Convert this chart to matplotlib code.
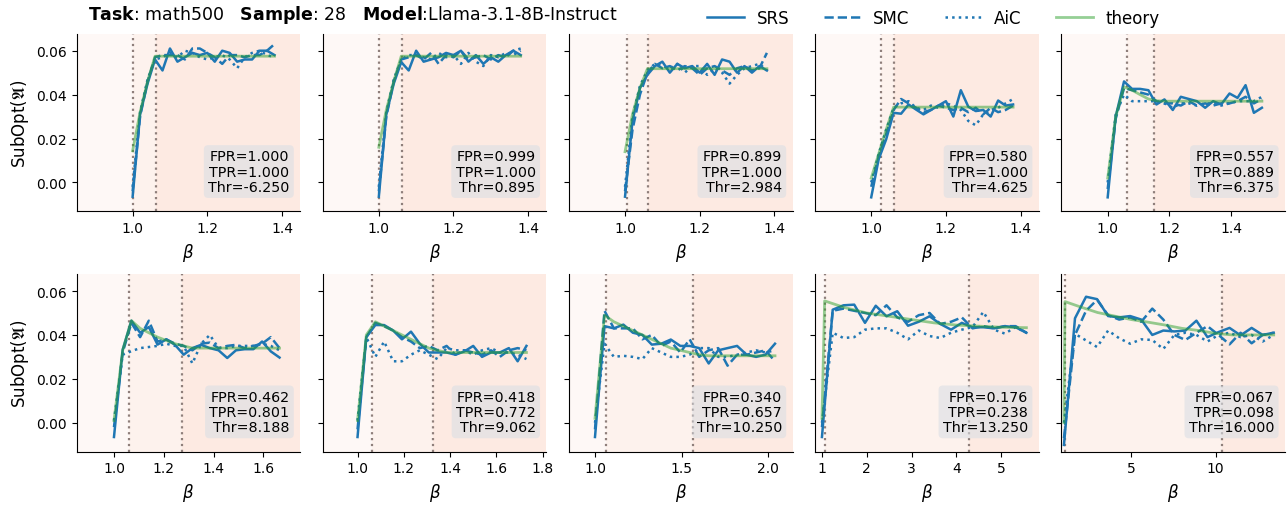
import matplotlib
matplotlib.use("Agg")
from matplotlib import pyplot as plt
from matplotlib.ticker import MultipleLocator

# beta grids
beta_top = [1.00, 1.02, 1.04, 1.06, 1.08, 1.10, 1.12, 1.14, 1.16, 1.18,
            1.20, 1.22, 1.24, 1.26, 1.28, 1.30, 1.32, 1.34, 1.36, 1.38]
beta_5 = [1.0, 1.026, 1.053, 1.079, 1.105, 1.132, 1.158, 1.184, 1.211, 1.237,
          1.263, 1.289, 1.316, 1.342, 1.368, 1.395, 1.421, 1.447, 1.474, 1.5]
beta_6 = [1.0, 1.035, 1.07, 1.105, 1.14, 1.175, 1.21, 1.245, 1.28, 1.315,
          1.35, 1.385, 1.42, 1.455, 1.49, 1.525, 1.56, 1.595, 1.63, 1.665]
beta_7 = [1.0, 1.038, 1.077, 1.115, 1.154, 1.192, 1.231, 1.269, 1.308, 1.346,
          1.385, 1.423, 1.462, 1.5, 1.538, 1.577, 1.615, 1.654, 1.692, 1.73]
beta_8 = [1.0, 1.055, 1.109, 1.164, 1.219, 1.274, 1.328, 1.383, 1.438, 1.493,
          1.547, 1.602, 1.657, 1.712, 1.766, 1.821, 1.876, 1.931, 1.985, 2.04]
beta_9 = [1.0, 1.24, 1.48, 1.72, 1.96, 2.2, 2.44, 2.68, 2.92, 3.16,
          3.4, 3.64, 3.88, 4.12, 4.36, 4.6, 4.84, 5.08, 5.32, 5.56]
beta_10 = [1.0, 1.655, 2.31, 2.965, 3.62, 4.275, 4.93, 5.585, 6.24, 6.895,
           7.55, 8.205, 8.86, 9.515, 10.17, 10.825, 11.48, 12.135, 12.79, 13.445]
theory_beta_9 = [1.0, 1.06, 1.5, 2.0, 2.5, 3.0, 3.5, 4.0, 4.5, 5.0, 5.56]
theory_beta_10 = [1.0, 1.06, 2, 3, 4, 5, 6, 7, 8, 9, 10, 11, 12, 13.445]

# SubOpt values per panel
srs_1 = [-0.0065, 0.031, 0.045, 0.056, 0.051, 0.061, 0.055, 0.057, 0.059, 0.058,
         0.059, 0.055, 0.060, 0.059, 0.055, 0.056, 0.056, 0.060, 0.060, 0.058]
smc_1 = [-0.004, 0.030, 0.046, 0.057, 0.058, 0.058, 0.058, 0.056, 0.061, 0.061,
         0.059, 0.057, 0.054, 0.058, 0.058, 0.057, 0.058, 0.058, 0.060, 0.063]
aic_1 = [-0.002, 0.032, 0.047, 0.056, 0.057, 0.059, 0.057, 0.060, 0.059, 0.057,
         0.056, 0.057, 0.058, 0.056, 0.052, 0.057, 0.059, 0.060, 0.058, 0.057]
theory_1 = [0.0144, 0.032, 0.046, 0.0575, 0.0575, 0.0575, 0.0575, 0.0575, 0.0575, 0.0575,
            0.0575, 0.0575, 0.0575, 0.0575, 0.0575, 0.0575, 0.0575, 0.0575, 0.0575, 0.0575]

srs_2 = [-0.0065, 0.031, 0.045, 0.0548, 0.051, 0.060, 0.055, 0.056, 0.057, 0.059,
         0.058, 0.060, 0.055, 0.058, 0.054, 0.057, 0.055, 0.058, 0.060, 0.058]
smc_2 = [-0.004, 0.030, 0.046, 0.056, 0.057, 0.058, 0.056, 0.059, 0.054, 0.058,
         0.057, 0.060, 0.056, 0.057, 0.058, 0.056, 0.058, 0.057, 0.060, 0.061]
aic_2 = [-0.002, 0.032, 0.047, 0.056, 0.058, 0.058, 0.057, 0.056, 0.059, 0.057,
         0.058, 0.054, 0.059, 0.055, 0.053, 0.058, 0.057, 0.059, 0.058, 0.060]
theory_2 = [0.016, 0.033, 0.046, 0.0575, 0.0575, 0.0575, 0.0575, 0.0575, 0.0575, 0.0575,
            0.0575, 0.0575, 0.0575, 0.0575, 0.0575, 0.0575, 0.0575, 0.0575, 0.0575, 0.0575]

srs_3 = [-0.0065, 0.028, 0.043, 0.049, 0.053, 0.055, 0.050, 0.054, 0.052, 0.053,
         0.050, 0.054, 0.049, 0.056, 0.055, 0.050, 0.053, 0.050, 0.053, 0.051]
smc_3 = [-0.004, 0.024, 0.040, 0.050, 0.054, 0.052, 0.053, 0.051, 0.053, 0.052,
         0.049, 0.052, 0.053, 0.051, 0.049, 0.052, 0.053, 0.051, 0.052, 0.059]
aic_3 = [-0.002, 0.030, 0.044, 0.051, 0.054, 0.053, 0.052, 0.054, 0.050, 0.053,
         0.053, 0.049, 0.052, 0.050, 0.045, 0.049, 0.052, 0.053, 0.054, 0.051]
theory_3 = [0.014, 0.031, 0.043, 0.0518, 0.0518, 0.0518, 0.0518, 0.0518, 0.0518, 0.0518,
            0.0518, 0.0518, 0.0518, 0.0518, 0.0518, 0.0518, 0.0518, 0.0518, 0.0518, 0.0518]

srs_4 = [-0.0068, 0.0106, 0.0196, 0.0317, 0.0313, 0.0355, 0.0332, 0.031, 0.033, 0.035,
         0.037, 0.030, 0.042, 0.0345, 0.0325, 0.033, 0.030, 0.0373, 0.035, 0.0355]
smc_4 = [-0.002, 0.012, 0.022, 0.033, 0.038, 0.036, 0.034, 0.032, 0.033, 0.035,
         0.034, 0.033, 0.034, 0.032, 0.034, 0.031, 0.034, 0.032, 0.033, 0.035]
aic_4 = [0.0, 0.013, 0.024, 0.034, 0.036, 0.037, 0.034, 0.033, 0.035, 0.034,
         0.036, 0.035, 0.033, 0.028, 0.026, 0.031, 0.033, 0.034, 0.036, 0.038]
theory_4 = [0.002, 0.013, 0.024, 0.0343, 0.0343, 0.0343, 0.0343, 0.0343, 0.0343, 0.0343,
            0.0343, 0.0343, 0.0343, 0.0343, 0.0343, 0.0343, 0.0343, 0.0343, 0.0343, 0.0343]

srs_5 = [-0.0068, 0.030, 0.046, 0.0426, 0.0426, 0.042, 0.0355, 0.0378, 0.033, 0.039,
         0.038, 0.037, 0.034, 0.037, 0.0355, 0.0405, 0.0385, 0.0443, 0.0317, 0.034]
smc_5 = [-0.003, 0.029, 0.043, 0.042, 0.041, 0.040, 0.037, 0.036, 0.036, 0.035,
         0.037, 0.035, 0.036, 0.035, 0.036, 0.036, 0.037, 0.039, 0.036, 0.038]
aic_5 = [0.0, 0.031, 0.040, 0.037, 0.037, 0.037, 0.037, 0.036, 0.034, 0.036,
         0.036, 0.035, 0.036, 0.036, 0.035, 0.036, 0.037, 0.037, 0.037, 0.039]
theory_5 = [0.002, 0.030, 0.0435, 0.042, 0.040, 0.038, 0.0372, 0.037, 0.037, 0.037,
            0.037, 0.037, 0.037, 0.037, 0.037, 0.037, 0.037, 0.037, 0.037, 0.037]

srs_6 = [-0.0065, 0.0333, 0.0465, 0.041, 0.0436, 0.0356, 0.038, 0.0355, 0.031, 0.034,
         0.0355, 0.034, 0.033, 0.0295, 0.033, 0.0335, 0.0335, 0.037, 0.0325, 0.0297]
smc_6 = [-0.002, 0.032, 0.0455, 0.039, 0.0465, 0.037, 0.038, 0.036, 0.035, 0.033,
         0.036, 0.0365, 0.034, 0.035, 0.0355, 0.034, 0.035, 0.036, 0.039, 0.034]
aic_6 = [0.001, 0.031, 0.0326, 0.034, 0.0345, 0.035, 0.036, 0.035, 0.035, 0.027,
         0.036, 0.040, 0.034, 0.034, 0.035, 0.035, 0.035, 0.036, 0.035, 0.033]
theory_6 = [0.001, 0.033, 0.0465, 0.043, 0.041, 0.039, 0.0375, 0.036, 0.035, 0.034,
            0.034, 0.034, 0.034, 0.034, 0.034, 0.034, 0.034, 0.034, 0.034, 0.034]

srs_7 = [-0.0065, 0.039, 0.0445, 0.0445, 0.042, 0.038, 0.0415, 0.036, 0.032, 0.032,
         0.032, 0.031, 0.0325, 0.035, 0.030, 0.032, 0.032, 0.034, 0.028, 0.035]
smc_7 = [-0.003, 0.039, 0.0455, 0.044, 0.042, 0.039, 0.037, 0.034, 0.035, 0.033,
         0.035, 0.031, 0.033, 0.032, 0.031, 0.033, 0.030, 0.033, 0.034, 0.033]
aic_7 = [0.001, 0.039, 0.030, 0.037, 0.028, 0.028, 0.031, 0.033, 0.031, 0.029,
         0.034, 0.033, 0.033, 0.031, 0.033, 0.034, 0.032, 0.032, 0.031, 0.029]
theory_7 = [0.001, 0.040, 0.046, 0.044, 0.042, 0.040, 0.038, 0.036, 0.034, 0.033,
            0.032, 0.032, 0.032, 0.032, 0.032, 0.032, 0.032, 0.032, 0.032, 0.032]

srs_8 = [-0.0065, 0.044, 0.043, 0.0447, 0.041, 0.040, 0.0356, 0.036, 0.0379, 0.035,
         0.035, 0.034, 0.027, 0.033, 0.034, 0.035, 0.031, 0.030, 0.031, 0.036]
smc_8 = [-0.003, 0.051, 0.043, 0.043, 0.043, 0.038, 0.040, 0.035, 0.037, 0.032,
         0.038, 0.030, 0.033, 0.034, 0.026, 0.031, 0.031, 0.032, 0.033, 0.028]
aic_8 = [0.0, 0.036, 0.030, 0.0305, 0.030, 0.029, 0.034, 0.032, 0.030, 0.030,
         0.031, 0.034, 0.034, 0.030, 0.030, 0.031, 0.032, 0.033, 0.032, 0.033]
theory_8 = [0.002, 0.049, 0.046, 0.044, 0.042, 0.040, 0.038, 0.036, 0.034, 0.033,
            0.032, 0.031, 0.0305, 0.0305, 0.0305, 0.0305, 0.0305, 0.0305, 0.0305, 0.0305]

srs_9 = [-0.0065, 0.0515, 0.0535, 0.0538, 0.0455, 0.0533, 0.0485, 0.0508, 0.0442, 0.046,
         0.0485, 0.045, 0.0424, 0.0455, 0.0435, 0.0435, 0.043, 0.044, 0.0435, 0.041]
smc_9 = [-0.002, 0.051, 0.052, 0.051, 0.050, 0.049, 0.0535, 0.048, 0.046, 0.049,
         0.050, 0.045, 0.046, 0.048, 0.043, 0.044, 0.043, 0.044, 0.044, 0.041]
aic_9 = [0.0, 0.041, 0.0386, 0.039, 0.0424, 0.043, 0.043, 0.041, 0.038, 0.042,
         0.0395, 0.0386, 0.041, 0.0424, 0.0436, 0.0505, 0.0424, 0.0406, 0.0436, 0.041]
theory_9 = [0.002, 0.0555, 0.0525, 0.050, 0.0485, 0.047, 0.0455, 0.0445, 0.044, 0.0435, 0.0433]

srs_10 = [-0.0101, 0.0476, 0.0574, 0.0563, 0.0486, 0.048, 0.0486, 0.047, 0.040, 0.042,
          0.0416, 0.042, 0.0465, 0.039, 0.0413, 0.0432, 0.0398, 0.0432, 0.040, 0.041]
smc_10 = [-0.007, 0.040, 0.051, 0.056, 0.049, 0.047, 0.048, 0.046, 0.052, 0.047,
          0.040, 0.0377, 0.041, 0.044, 0.040, 0.0357, 0.041, 0.0362, 0.040, 0.041]
aic_10 = [0.0, 0.0405, 0.0375, 0.0345, 0.042, 0.0385, 0.036, 0.038, 0.0377, 0.0336,
          0.040, 0.041, 0.040, 0.037, 0.040, 0.041, 0.039, 0.040, 0.037, 0.040]
theory_10 = [0.0, 0.0552, 0.0527, 0.0502, 0.0486, 0.047, 0.0458, 0.0445, 0.043, 0.042,
             0.0407, 0.040, 0.040, 0.040]

# region boundaries (dotted lines) and box texts
lo_bound = [1.0, 1.0, 1.006, 1.025, 1.061, 1.06, 1.061, 1.063, 1.06, 1.06]
hi_bound = [1.062, 1.062, 1.061, 1.062, 1.149, 1.274, 1.328, 1.565, 4.27, 10.35]
fpr = ["1.000", "0.999", "0.899", "0.580", "0.557", "0.462", "0.418", "0.340", "0.176", "0.067"]
tpr = ["1.000", "1.000", "1.000", "1.000", "0.889", "0.801", "0.772", "0.657", "0.238", "0.098"]
thr = ["-6.250", "0.895", "2.984", "4.625", "6.375", "8.188", "9.062", "10.250", "13.250", "16.000"]
tick_step = [0.2, 0.2, 0.2, 0.2, 0.2, 0.2, 0.2, 0.5, 1, 5]

betas = [beta_top, beta_top, beta_top, beta_top, beta_5, beta_6, beta_7, beta_8, beta_9, beta_10]
theory_betas = [beta_top, beta_top, beta_top, beta_top, beta_5, beta_6, beta_7, beta_8,
                theory_beta_9, theory_beta_10]
srs = [srs_1, srs_2, srs_3, srs_4, srs_5, srs_6, srs_7, srs_8, srs_9, srs_10]
smc = [smc_1, smc_2, smc_3, smc_4, smc_5, smc_6, smc_7, smc_8, smc_9, smc_10]
aic = [aic_1, aic_2, aic_3, aic_4, aic_5, aic_6, aic_7, aic_8, aic_9, aic_10]
theory = [theory_1, theory_2, theory_3, theory_4, theory_5, theory_6, theory_7, theory_8,
          theory_9, theory_10]

blue = "#1f77b4"
shade = ["#fef8f6", "#fdf2ed", "#fdeae2"]

fig, axes = plt.subplots(2, 5, figsize=(12.88, 5.06), dpi=100, sharey=True)
fig.subplots_adjust(left=0.0595, right=0.9977, top=0.9308, bottom=0.1053,
                    wspace=0.101, hspace=0.355)

for i, ax in enumerate(axes.flat):
    xmax = max(betas[i]) * 1.05
    ax.axvspan(0.85, lo_bound[i], color=shade[0], lw=0, zorder=0)
    ax.axvspan(lo_bound[i], hi_bound[i], color=shade[1], lw=0, zorder=0)
    ax.axvspan(hi_bound[i], xmax, color=shade[2], lw=0, zorder=0)
    ax.axvline(lo_bound[i], color="#8f7f7b", ls=":", lw=1.6, zorder=1)
    ax.axvline(hi_bound[i], color="#8f7f7b", ls=":", lw=1.6, zorder=1)

    ax.plot(betas[i], srs[i], color=blue, lw=1.8, label="SRS")
    ax.plot(betas[i], smc[i], color=blue, lw=1.8, ls="--", label="SMC")
    ax.plot(betas[i], aic[i], color=blue, lw=1.8, ls=":", label="AiC")
    ax.plot(theory_betas[i], theory[i], color="tab:green", lw=2, alpha=0.5, label="theory")

    ax.text(0.952, 0.10, f"FPR={fpr[i]}\nTPR={tpr[i]}\nThr={thr[i]}",
            transform=ax.transAxes, ha="right", va="bottom", fontsize=10.3,
            linespacing=1.1,
            bbox=dict(boxstyle="round,pad=0.3", fc="#dadfe5", ec="none", alpha=0.6))

    ax.set_xlim(0.85, xmax)
    ax.set_ylim(-0.0132, 0.0676)
    ax.xaxis.set_major_locator(MultipleLocator(tick_step[i]))
    ax.set_yticks([0.0, 0.02, 0.04, 0.06])
    ax.tick_params(labelsize=10)
    ax.set_xlabel(r"$\beta$", fontsize=12)
    ax.spines["top"].set_visible(False)
    ax.spines["right"].set_visible(False)

for ax in axes[:, 0]:
    ax.set_ylabel(r"SubOpt($\mathfrak{A}$)", fontsize=12)

handles, labels = axes[0, 0].get_legend_handles_labels()
fig.legend(handles, labels, loc="center", bbox_to_anchor=(0.7248, 0.962), ncol=4,
           frameon=False, fontsize=12, handlelength=2.2, handletextpad=0.75,
           columnspacing=2.1)

fig.text(0.0683, 0.970,
         r"$\mathbf{Task}$: math500   $\mathbf{Sample}$: 28   $\mathbf{Model}$:Llama-3.1-8B-Instruct",
         fontsize=12.5, ha="left", va="center")

fig.savefig("out.png", dpi=100)
